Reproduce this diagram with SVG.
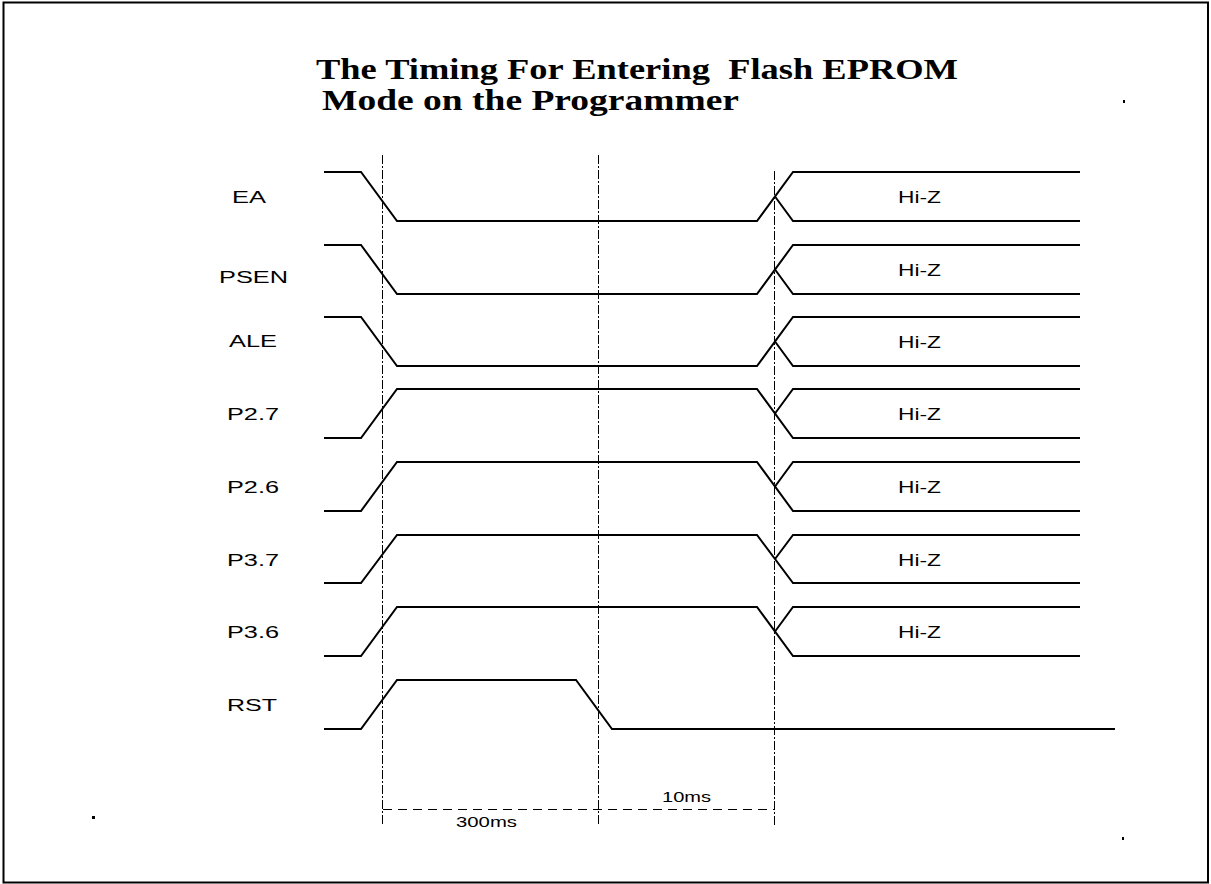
<svg xmlns="http://www.w3.org/2000/svg" width="1211" height="884" viewBox="0 0 1211 884">
<style>
.frame{fill:none;stroke:#000;stroke-width:2}
.sig{fill:none;stroke:#000;stroke-width:2;stroke-linejoin:miter}
.vguide{fill:none;stroke:#000;stroke-width:1;stroke-dasharray:9 2 2 2}
.hdash{fill:none;stroke:#000;stroke-width:1;stroke-dasharray:9 6}
.title{font-family:"Liberation Serif","Times New Roman",serif;font-weight:bold;font-size:29px;fill:#000;white-space:pre}
.lbl{font-family:"Liberation Sans",Arial,sans-serif;font-size:16px;fill:#000}
.tm{font-family:"Liberation Sans",Arial,sans-serif;font-size:14px;fill:#000}
</style>
<rect x="0" y="0" width="1211" height="884" fill="#fff"/>
<rect class="frame" x="3.5" y="2.5" width="1204.5" height="880"/>
<g id="title">
<text class="title" x="316" y="79" textLength="642" lengthAdjust="spacingAndGlyphs">The Timing For Entering  Flash EPROM</text>
<text class="title" x="322" y="110" textLength="417" lengthAdjust="spacingAndGlyphs">Mode on the Programmer</text>
</g>
<g id="dots">
<rect x="92" y="816" width="3" height="3"/>
<rect x="1122" y="837" width="2" height="3"/>
<rect x="1123" y="100" width="2" height="3"/>
</g>
<g id="connectors">
<line class="vguide" x1="382.5" y1="155" x2="382.5" y2="825"/>
<line class="vguide" x1="598.5" y1="155" x2="598.5" y2="825"/>
<line class="vguide" x1="774.5" y1="171" x2="774.5" y2="825"/>
<line class="hdash" x1="383" y1="809.5" x2="774" y2="809.5"/>
</g>
<g id="sig-EA">
<text class="lbl" x="232" y="203" textLength="34" lengthAdjust="spacingAndGlyphs">EA</text>
<path class="sig" d="M324 172H361L397 221H757L793 172H1080M775 196.5L793 221H1080"/>
<text class="lbl" x="898" y="203" textLength="43" lengthAdjust="spacingAndGlyphs">Hi-Z</text>
</g>
<g id="sig-PSEN">
<text class="lbl" x="219" y="283" textLength="69" lengthAdjust="spacingAndGlyphs">PSEN</text>
<path class="sig" d="M324 245H361L397 294H757L793 245H1080M775 269.5L793 294H1080"/>
<text class="lbl" x="898" y="276" textLength="43" lengthAdjust="spacingAndGlyphs">Hi-Z</text>
</g>
<g id="sig-ALE">
<text class="lbl" x="229" y="347" textLength="48" lengthAdjust="spacingAndGlyphs">ALE</text>
<path class="sig" d="M324 317H361L397 366H757L793 317H1080M775 341.5L793 366H1080"/>
<text class="lbl" x="898" y="348" textLength="43" lengthAdjust="spacingAndGlyphs">Hi-Z</text>
</g>
<g id="sig-P27">
<text class="lbl" x="227" y="420" textLength="52" lengthAdjust="spacingAndGlyphs">P2.7</text>
<path class="sig" d="M324 438H361L397 389H757L793 438H1080M775 413.5L793 389H1080"/>
<text class="lbl" x="898" y="420" textLength="43" lengthAdjust="spacingAndGlyphs">Hi-Z</text>
</g>
<g id="sig-P26">
<text class="lbl" x="227" y="493" textLength="52" lengthAdjust="spacingAndGlyphs">P2.6</text>
<path class="sig" d="M324 511H361L397 462H757L793 511H1080M775 486.5L793 462H1080"/>
<text class="lbl" x="898" y="493" textLength="43" lengthAdjust="spacingAndGlyphs">Hi-Z</text>
</g>
<g id="sig-P37">
<text class="lbl" x="227" y="566" textLength="52" lengthAdjust="spacingAndGlyphs">P3.7</text>
<path class="sig" d="M324 583H361L397 535H757L793 583H1080M775 559L793 535H1080"/>
<text class="lbl" x="898" y="566" textLength="43" lengthAdjust="spacingAndGlyphs">Hi-Z</text>
</g>
<g id="sig-P36">
<text class="lbl" x="227" y="638" textLength="52" lengthAdjust="spacingAndGlyphs">P3.6</text>
<path class="sig" d="M324 656H361L397 607H757L793 656H1080M775 631.5L793 607H1080"/>
<text class="lbl" x="898" y="638" textLength="43" lengthAdjust="spacingAndGlyphs">Hi-Z</text>
</g>
<g id="sig-RST">
<text class="lbl" x="227" y="711" textLength="50" lengthAdjust="spacingAndGlyphs">RST</text>
<path class="sig" d="M324 729H361L397 680H576L612 729H1115"/>
</g>
<g id="time-labels">
<text class="tm" x="662" y="802" textLength="49" lengthAdjust="spacingAndGlyphs">10ms</text>
<text class="tm" x="456" y="827" textLength="61" lengthAdjust="spacingAndGlyphs">300ms</text>
</g>
</svg>
